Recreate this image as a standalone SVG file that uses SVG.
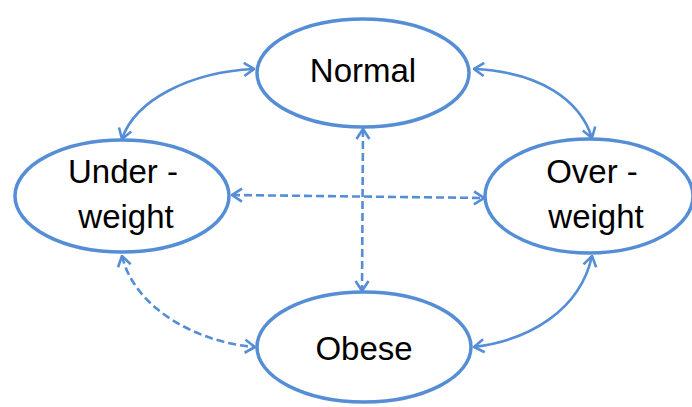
<svg xmlns="http://www.w3.org/2000/svg" width="692" height="407" viewBox="0 0 692 407">
<style>
.node{fill:#fff;stroke:#558ED5;stroke-width:3.5}
.lbl{font-family:"Liberation Sans",Arial,sans-serif;font-size:33px;fill:#000;text-anchor:middle}
.c{fill:none;stroke:#558ED5;stroke-width:2.6;marker-start:url(#a);marker-end:url(#a)}
.d{stroke-dasharray:8 4}
</style>
<defs>
<marker id="a" viewBox="0 0 12 16" refX="11" refY="8" markerWidth="12" markerHeight="16" markerUnits="userSpaceOnUse" orient="auto-start-reverse">
<path d="M1,1.5 L11,8 L1,14.5" fill="none" stroke="#558ED5" stroke-width="2.6"/>
</marker>
</defs>
<rect width="692" height="407" fill="#fff"/>
<g id="connectors">
<path class="c" d="M122,139 C135,100 190,72 254,69"/>
<path class="c" d="M474,69 C540,72 580,100 592,138"/>
<path class="c d" d="M122,256 C135,310 200,343 255,347"/>
<path class="c" d="M592,256 C580,310 530,340 474,347"/>
<path class="c d" d="M232,195 L484,198"/>
<path class="c d" d="M363,129 L362,291"/>
</g>
<g id="normal">
<ellipse class="node" cx="363" cy="73" rx="106" ry="54"/>
<text class="lbl" x="363" y="82">Normal</text>
</g>
<g id="underweight">
<ellipse class="node" cx="122" cy="196" rx="107" ry="56"/>
<text class="lbl" x="123" y="183">Under -</text>
<text class="lbl" x="126" y="228">weight</text>
</g>
<g id="overweight">
<ellipse class="node" cx="589" cy="196" rx="104" ry="57"/>
<text class="lbl" x="592" y="183">Over -</text>
<text class="lbl" x="596" y="228">weight</text>
</g>
<g id="obese">
<ellipse class="node" cx="364" cy="347" rx="107" ry="55"/>
<text class="lbl" x="364" y="360">Obese</text>
</g>
</svg>
